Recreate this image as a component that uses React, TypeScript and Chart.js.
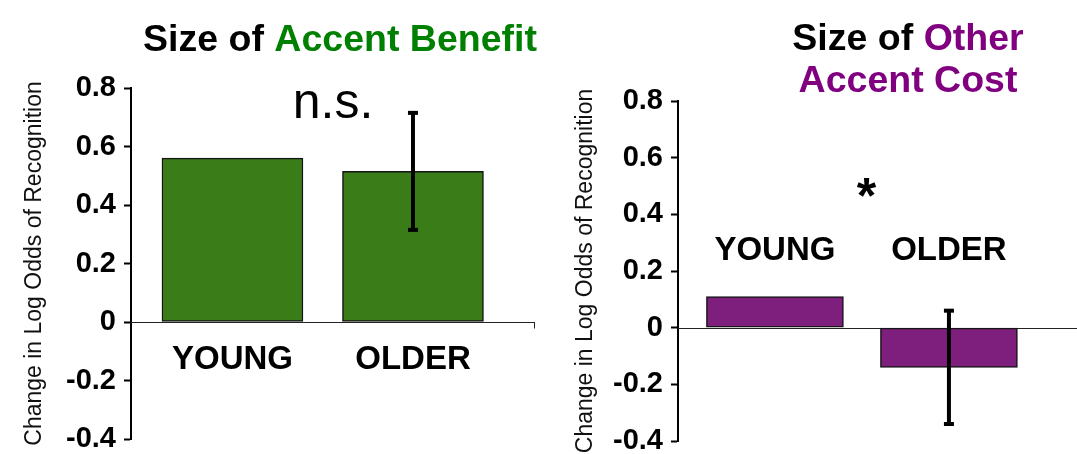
import { useEffect, useRef } from 'react';
import { Chart, registerables } from 'chart.js';

Chart.register(...registerables);

const FONT = '"Liberation Sans", Arial, Helvetica, sans-serif';

// Age groups compared in both panels
const groups = ['YOUNG', 'OLDER'];

// Size of accent benefit (change in log odds of recognition)
const benefitMeans = [0.56, 0.515];
const benefitErrors: (number | null)[] = [null, 0.2];

// Size of other-accent cost (change in log odds of recognition)
const costMeans = [0.11, -0.14];
const costErrors: (number | null)[] = [null, 0.2];

// Shared vertical axis
const yTickValues = [0.8, 0.6, 0.4, 0.2, 0, -0.2, -0.4];
const yAxisTitle = 'Change in Log Odds of Recognition';

type Segment = { text: string; color: string };

type PanelSpec = {
  left: number;
  width: number;
  means: number[];
  errors: (number | null)[];
  barColor: string;
  barThickness: number;
  xMin: number;
  xMax: number;
  padding: { left: number; right: number; top: number; bottom: number };
  yWidth: number;
  yTitlePad: number;
  labelLevel: number;
  note: { text: string; font: string; x: number; y: number };
  titleLines: Segment[][];
  titleCenter: number;
  titleBaselines: number[];
  endTick: boolean;
};

const panels: PanelSpec[] = [
  {
    left: 0,
    width: 560,
    means: benefitMeans,
    errors: benefitErrors,
    barColor: '#3a7d18',
    barThickness: 141,
    xMin: -0.562,
    xMax: 1.676,
    padding: { left: 0, right: 25, top: 88, bottom: 15 },
    yWidth: 131,
    yTitlePad: 21,
    labelLevel: -0.162,
    note: { text: 'n.s.', font: `50px ${FONT}`, x: 0.557, y: 0.698 },
    titleLines: [[{ text: 'Size of ', color: '#000000' }, { text: 'Accent Benefit', color: '#008000' }]],
    titleCenter: 340,
    titleBaselines: [51],
    endTick: true,
  },
  {
    left: 560,
    width: 517,
    means: costMeans,
    errors: costErrors,
    barColor: '#7e1e7d',
    barThickness: 137,
    xMin: -0.557,
    xMax: 1.736,
    padding: { left: 0, right: 0, top: 101, bottom: 13 },
    yWidth: 118,
    yTitlePad: 12,
    labelLevel: 0.238,
    note: { text: '*', font: `bold 50px ${FONT}`, x: 0.526, y: 0.403 },
    titleLines: [
      [{ text: 'Size of ', color: '#000000' }, { text: 'Other', color: '#800080' }],
      [{ text: 'Accent Cost', color: '#800080' }],
    ],
    titleCenter: 348,
    titleBaselines: [50, 92],
    endTick: false,
  },
];

function makeDecor(spec: PanelSpec) {
  return {
    id: 'panelDecor',
    beforeDatasetsDraw(chart: any) {
      const { ctx, chartArea, scales } = chart;
      const y0 = Math.round(scales.y.getPixelForValue(0)) + 0.5;
      ctx.save();
      ctx.strokeStyle = '#222';
      ctx.lineWidth = 1;
      ctx.beginPath();
      ctx.moveTo(chartArea.left, y0);
      ctx.lineTo(chartArea.right, y0);
      if (spec.endTick) {
        ctx.moveTo(chartArea.right - 0.5, y0);
        ctx.lineTo(chartArea.right - 0.5, y0 + 6);
      }
      ctx.stroke();
      ctx.restore();
    },
    afterDatasetsDraw(chart: any) {
      const { ctx, scales } = chart;
      const xs = scales.x;
      const ys = scales.y;
      ctx.save();

      // error bars
      ctx.strokeStyle = '#000';
      ctx.fillStyle = '#000';
      spec.errors.forEach((err, i) => {
        if (err == null) return;
        const x = xs.getPixelForValue(i);
        const yTop = ys.getPixelForValue(spec.means[i] + err);
        const yBot = ys.getPixelForValue(spec.means[i] - err);
        ctx.lineWidth = 4;
        ctx.beginPath();
        ctx.moveTo(x, yTop);
        ctx.lineTo(x, yBot);
        ctx.stroke();
        ctx.fillRect(x - 5, yTop - 2, 10, 4);
        ctx.fillRect(x - 5, yBot - 2, 10, 4);
      });

      // group labels
      ctx.font = `bold 33px ${FONT}`;
      ctx.textAlign = 'center';
      ctx.textBaseline = 'alphabetic';
      groups.forEach((g, i) => {
        ctx.fillText(g, xs.getPixelForValue(i), ys.getPixelForValue(spec.labelLevel));
      });

      // significance note
      ctx.font = spec.note.font;
      ctx.fillText(spec.note.text, xs.getPixelForValue(spec.note.x), ys.getPixelForValue(spec.note.y));

      // two-colour title
      ctx.font = `bold 37.5px ${FONT}`;
      ctx.textAlign = 'left';
      spec.titleLines.forEach((line, li) => {
        const total = line.reduce((w, s) => w + ctx.measureText(s.text).width, 0);
        let x = spec.titleCenter - total / 2;
        line.forEach((s) => {
          ctx.fillStyle = s.color;
          ctx.fillText(s.text, x, spec.titleBaselines[li]);
          x += ctx.measureText(s.text).width;
        });
      });
      ctx.restore();
    },
  };
}

function Panel({ spec }: { spec: PanelSpec }) {
  const ref = useRef<HTMLCanvasElement | null>(null);

  useEffect(() => {
    if (!ref.current) return;
    const chart = new Chart(ref.current, {
      type: 'bar',
      data: {
        datasets: [
          {
            data: spec.means.map((v, i) => ({ x: i, y: v })),
            backgroundColor: spec.barColor,
            borderColor: '#151515',
            borderWidth: 1.5,
            borderSkipped: false,
            barThickness: spec.barThickness,
          },
        ],
      },
      options: {
        responsive: false,
        maintainAspectRatio: false,
        animation: false,
        devicePixelRatio: 1,
        layout: { padding: spec.padding },
        plugins: {
          legend: { display: false },
          tooltip: { enabled: false },
          title: { display: false },
        },
        scales: {
          x: {
            type: 'linear',
            display: false,
            offset: false,
            min: spec.xMin,
            max: spec.xMax,
          },
          y: {
            type: 'linear',
            min: -0.4,
            max: 0.8,
            afterBuildTicks: (scale: any) => {
              scale.ticks = yTickValues.map((v) => ({ value: v }));
            },
            afterFit: (scale: any) => {
              scale.width = spec.yWidth;
              scale.paddingTop = 0;
              scale.paddingBottom = 0;
            },
            ticks: {
              color: '#000',
              padding: 8,
              font: { family: FONT, size: 29, weight: 'bold', lineHeight: 1 },
              callback: (v: any) => String(v),
            },
            grid: {
              drawOnChartArea: false,
              drawTicks: true,
              tickLength: 7,
              tickColor: '#000',
              tickWidth: 2,
            },
            border: { display: true, color: '#000', width: 2 },
            title: {
              display: true,
              text: yAxisTitle,
              color: '#111',
              font: { family: FONT, size: 23 },
              padding: { top: spec.yTitlePad, bottom: 0 },
            },
          },
        },
      } as any,
      plugins: [makeDecor(spec)],
    });
    return () => chart.destroy();
  }, [spec]);

  return (
    <div style={{ position: 'absolute', left: spec.left, top: 0, width: spec.width, height: 454 }}>
      <canvas ref={ref} width={spec.width} height={454} style={{ display: 'block', width: spec.width, height: 454 }} />
    </div>
  );
}

export default function App() {
  return (
    <div
      style={{
        position: 'absolute',
        left: 0,
        top: 0,
        width: 1077,
        height: 454,
        background: '#ffffff',
        overflow: 'hidden',
      }}
    >
      {panels.map((p, i) => (
        <Panel key={i} spec={p} />
      ))}
    </div>
  );
}
